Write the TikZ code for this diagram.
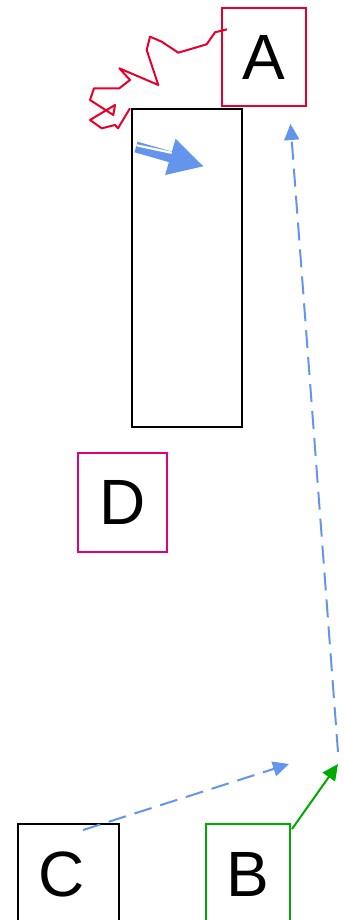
\documentclass[tikz,border=0pt]{standalone}
\usepackage{fontspec}
\setmainfont{Liberation Sans}
\usepackage{tikz}
\usetikzlibrary{arrows.meta}

\definecolor{boxred}{RGB}{232,0,42}
\definecolor{boxpink}{RGB}{222,0,130}
\definecolor{boxgreen}{RGB}{0,170,0}
\definecolor{arrowblue}{RGB}{100,149,237}

\begin{document}
\begin{tikzpicture}[x=1pt,y=-1pt,
        letterbox/.style={draw,line width=2pt,inner sep=0pt,font=\fontsize{64}{64}\selectfont},
        bluedash/.style={arrowblue,line width=2pt,dash pattern=on 18pt off 9pt,-{Triangle[length=16pt,width=15pt]}}]
        \useasboundingbox (0,0) rectangle (345,920);

        \node[letterbox,draw=boxred,minimum width=84pt,minimum height=98pt] (A) at (264,57.5) {A};
        \node[letterbox,draw=boxgreen,minimum width=84pt,minimum height=100pt] (B) at (248,874) {B};
        \node[letterbox,minimum width=101pt,minimum height=100pt] (C) at (68.5,874) {C\kern13pt};
        \node[letterbox,draw=boxpink,minimum width=89pt,minimum height=99pt] (D) at (122.8,502.2) {D};
        \node[letterbox,minimum width=110pt,minimum height=318pt] (bar) at (186.7,268.2) {};

        \coordinate (squigstart) at (227,29.3);
        \coordinate (barin) at (136,147);
        \coordinate (barout) at (204,166.5);
        \coordinate (tipA) at (290.5,124);
        \coordinate (fork) at (338,752);
        \coordinate (tipB) at (338,764);
        \coordinate (tipC) at (289,764);
        \coordinate (startB) at (292,829);
        \coordinate (startC) at (83,830);

        % red scribble from A
        \draw[boxred,line width=2pt,line join=round] (squigstart) -- (215,32.3) -- (206.7,44.3) -- (178.3,52.7)
            -- (161.7,41.7) -- (150,36.7) -- (146.7,50) -- (158.3,85) -- (119.3,68.3) -- (130,80)
            -- (119.3,88.3) -- (94,88.3) -- (90,100) -- (113.3,115) -- (115,105) -- (90,120)
            -- (101.7,128.3) -- (115,125) -- (118,128.3) -- (130,108.3);

        % thick arrow inside the bar
        \draw[arrowblue,line width=11pt,-{Triangle[length=35pt,width=35pt]}] (barin) -- (barout);
        \draw[white,line width=2.2pt] ([shift={(0.5,-1.7)}]barin) -- (171.7,152.8);

        \draw[bluedash] (fork) -- (tipA);
        \draw[bluedash] (startC) -- (tipC);
        \draw[boxgreen,line width=2pt,-{Triangle[length=16pt,width=15pt]}] (startB) -- (tipB);
\end{tikzpicture}
\end{document}
